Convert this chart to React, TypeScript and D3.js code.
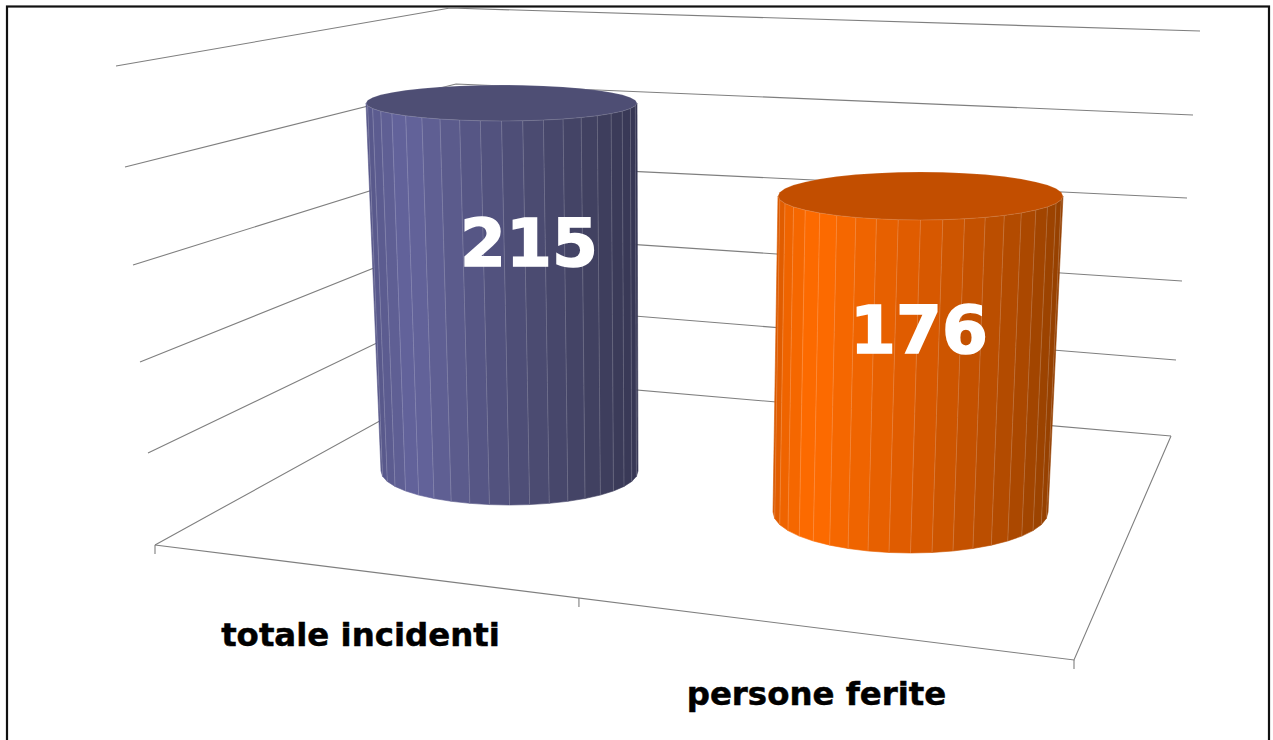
import React from "react";
import * as d3 from "d3";

// Data
const categories = ["totale incidenti", "persone ferite"];
const values = [215, 176];
const valueTicks = [0, 50, 100, 150, 200, 250];

// Wall projection: value -> pixel for each gridline anchor
const leftX = d3.scaleLinear().domain(valueTicks).range([155, 148, 140, 133, 125, 116]);
const leftY = d3.scaleLinear().domain(valueTicks).range([545, 453, 362, 265, 167, 66]);
const backX = d3.scaleLinear().domain(valueTicks).range([463, 462, 461, 459, 456, 450]);
const backY = d3.scaleLinear().domain(valueTicks).range([375, 302, 233, 163, 84, 8]);
const rightX = d3.scaleLinear().domain(valueTicks).range([1171, 1176, 1182, 1187, 1193, 1200]);
const rightY = d3.scaleLinear().domain(valueTicks).range([436, 360, 281, 198, 115, 31]);

const floorFrontLeft: [number, number] = [155, 545];
const floorFrontRight: [number, number] = [1074, 660];
const floorBackRight: [number, number] = [1171, 436];

// Cylinder geometry [base, top] for each category
const cylCx = [[509.5, 501.5], [910.5, 920.5]];
const cylCy = [[471, 103], [512, 196]];
const cylRx = [[128.5, 135.5], [137.5, 142.5]];
const cylRy = [[34, 18], [41, 24]];
const shadeStops = [0, 0.04, 0.14, 0.5, 0.85, 1];
const shades = [
  ["#57578a", "#5c5c90", "#64649c", "#50507a", "#40405f", "#363654"],
  ["#d95a00", "#f06400", "#ff6c00", "#dc5a00", "#b04a00", "#954000"],
];
const topFill = ["#4e4e74", "#c24e00"];
const labelPos = [[529, 266], [919, 353]];
const catPos = [[360.5, 646], [816.5, 705]];
const FACETS = 40;

const line = d3.line();

function Cylinder({ i }: { i: number }) {
  const v = values[i];
  const t = (sel: number[][]) => d3.scaleLinear().domain([0, v]).range(sel[i]);
  const cx = t(cylCx), cy = t(cylCy), rx = t(cylRx), ry = t(cylRy);
  const shade = d3.scaleLinear<string>().domain(shadeStops).range(shades[i]);
  const pt = (val: number, a: number): [number, number] => [
    cx(val) - rx(val) * Math.cos(a),
    cy(val) + ry(val) * Math.sin(a),
  ];
  const angles = d3.range(FACETS / 2 + 1).map((k) => (k * 2 * Math.PI) / FACETS);
  const facets = angles.slice(0, -1).map((a, k) => {
    const b = angles[k + 1];
    const f = (1 - Math.cos((a + b) / 2)) / 2;
    return { d: line([pt(0, a), pt(0, b), pt(v, b), pt(v, a)]) + "Z", fill: shade(f) };
  });
  const ring = d3.range(FACETS).map((k) => pt(v, (k * 2 * Math.PI) / FACETS));
  return (
    <g>
      {facets.map((f, k) => (
        <path key={k} d={f.d} fill={f.fill} stroke={f.fill} strokeWidth={0.6} />
      ))}
      {angles.slice(1, -1).map((a, k) => (
        <path key={k} d={line([pt(0, a), pt(v, a)]) as string} stroke="#ffffff" strokeOpacity={0.2} strokeWidth={0.9} fill="none" />
      ))}
      <path d={line(ring) + "Z"} fill={topFill[i]} stroke="#ffffff" strokeOpacity={0.18} strokeWidth={0.8} />
    </g>
  );
}

export default function App() {
  const grid = "#7f7f7f";
  const fl = floorFrontLeft, fr = floorFrontRight;
  const tickAt = [0, 0.4613, 1];
  return (
    <svg width={1273} height={740} style={{ position: "absolute", left: 0, top: 0, background: "#fff" }}>
      <rect x={7} y={6.5} width={1262} height={760} fill="#fff" stroke="#111" strokeWidth={2.2} />
      {valueTicks.map((tk) => (
        <path
          key={tk}
          d={line([[leftX(tk), leftY(tk)], [backX(tk), backY(tk)], [rightX(tk), rightY(tk)]]) as string}
          fill="none"
          stroke={grid}
          strokeWidth={1.1}
        />
      ))}
      <path d={line([fl, fr, floorBackRight]) as string} fill="none" stroke={grid} strokeWidth={1.1} />
      {tickAt.map((p) => {
        const x = fl[0] + (fr[0] - fl[0]) * p;
        const y = fl[1] + (fr[1] - fl[1]) * p;
        return <line key={p} x1={x} x2={x} y1={y} y2={y + 9} stroke={grid} strokeWidth={1.1} />;
      })}
      {categories.map((_, i) => <Cylinder key={i} i={i} />)}
      {values.map((v, i) => (
        <text key={i} x={labelPos[i][0]} y={labelPos[i][1]} textAnchor="middle" fill="#fff" stroke="#fff" strokeWidth={1.6} fontFamily="DejaVu Sans" fontWeight={700} fontSize={66}>{v}</text>
      ))}
      {categories.map((c, i) => (
        <text key={c} x={catPos[i][0]} y={catPos[i][1]} textAnchor="middle" fill="#000" stroke="#000" strokeWidth={0.5} fontFamily="DejaVu Sans" fontWeight={700} fontSize={32.4}>{c}</text>
      ))}
    </svg>
  );
}
